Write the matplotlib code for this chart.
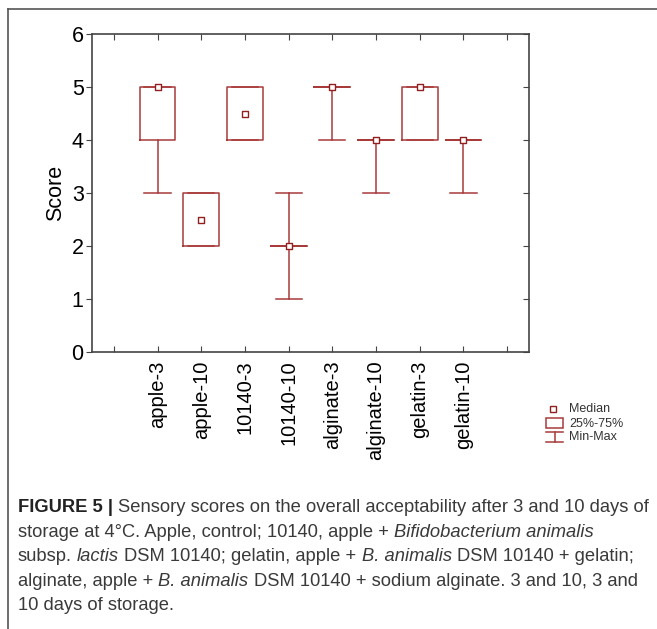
import matplotlib
matplotlib.use("Agg")
import matplotlib.pyplot as plt
from matplotlib import font_manager
from matplotlib.lines import Line2D
from matplotlib.patches import Rectangle

# Box plot values
groups = ["apple-3", "apple-10", "10140-3", "10140-10",
          "alginate-3", "alginate-10", "gelatin-3", "gelatin-10"]
medians = [5, 2.5, 4.5, 2, 5, 4, 5, 4]
q25 = [4, 2, 4, 2, 5, 4, 4, 4]
q75 = [5, 3, 5, 2, 5, 4, 5, 4]
mins = [3, 2, 4, 1, 4, 3, 4, 3]
maxs = [5, 3, 5, 3, 5, 4, 5, 4]

caption = [
    [("FIGURE 5 | ", "b"), ("Sensory scores on the overall acceptability after 3 and 10 days of", "n")],
    [("storage at 4°C. Apple, control; 10140, apple + ", "n"), ("Bifidobacterium animalis", "i")],
    [("subsp. ", "n"), ("lactis", "i"), (" DSM 10140; gelatin, apple + ", "n"), ("B. animalis", "i"),
     (" DSM 10140 + gelatin;", "n")],
    [("alginate, apple + ", "n"), ("B. animalis", "i"), (" DSM 10140 + sodium alginate. 3 and 10, 3 and", "n")],
    [("10 days of storage.", "n")],
]

red = "#a83a3a"
dark = "#921f1f"
axcol = "#444444"

names = {f.name for f in font_manager.fontManager.ttflist}
cap_font = "Liberation Sans Narrow" if "Liberation Sans Narrow" in names else "Liberation Sans"
plt.rcParams["font.family"] = ["Liberation Sans", "DejaVu Sans"]

fig = plt.figure(figsize=(6.57, 6.29), dpi=100)
ax = fig.add_axes([92 / 657, 1 - 352 / 629, 437 / 657, 318 / 629])

stats = [dict(med=m, q1=a, q3=b, whislo=lo, whishi=hi, label=g)
         for g, m, a, b, lo, hi in zip(groups, medians, q25, q75, mins, maxs)]
lp = dict(color=red, linewidth=1.1)
ax.bxp(stats, positions=range(len(groups)), widths=0.82, capwidths=0.6,
       showfliers=False, boxprops=lp, whiskerprops=lp, capprops=lp,
       medianprops=dict(linestyle="none"), manage_ticks=False)
ax.scatter(range(len(groups)), medians, marker="s", s=20, facecolor="white",
           edgecolor=dark, linewidth=1.0, zorder=5)

ax.set_xlim(-1.5, len(groups) + 0.5)
ax.set_ylim(0, 6)
ax.set_xticks(range(-1, len(groups) + 1))
ax.set_xticklabels([""] + groups + [""], rotation=90, fontsize=14.5)
ax.set_yticks(range(0, 7))
ax.tick_params(axis="x", direction="in", top=True, length=4, color=axcol, pad=6)
ax.tick_params(axis="y", direction="out", length=4, color=axcol, labelsize=15.5, pad=2)
ax.set_ylabel("Score", fontsize=15.5, labelpad=4)
for s in ax.spines.values():
    s.set_color(axcol)
    s.set_linewidth(1.2)
right = ax.secondary_yaxis("right")
right.set_yticks(range(0, 7))
right.tick_params(direction="in", length=4, color=axcol, labelright=False)
right.spines["right"].set_visible(False)

# overlay in pixel units for frame, legend and caption
lg = fig.add_axes([0, 0, 1, 1], zorder=-1)
lg.set_xlim(0, 657)
lg.set_ylim(629, 0)
lg.axis("off")
lg.add_line(Line2D([8, 657], [8.5, 8.5], color="#555555", lw=1.2))
lg.add_line(Line2D([8, 8], [8.5, 629], color="#555555", lw=1.2))

# legend
lg.plot([553], [409], marker="s", ms=4.5, mfc="white", mec=dark, mew=1.0)
lg.add_patch(Rectangle((546, 418), 17, 10, fill=False, edgecolor=red, lw=1.1))
lg.add_line(Line2D([546, 563], [432, 432], color=red, lw=1.1))
lg.add_line(Line2D([546, 563], [442, 442], color=red, lw=1.1))
lg.add_line(Line2D([554.5, 554.5], [432, 442], color=red, lw=1.1))
for label, yy in [("Median", 409), ("25%-75%", 424), ("Min-Max", 437)]:
    lg.text(569, yy, label, fontsize=9, va="center", ha="left", color="#333333")

# caption, drawn piece by piece so bold and italic runs sit inline
r = fig.canvas.get_renderer()
styles = {"b": dict(fontweight="bold", color="#222222"),
          "n": dict(color="#3a3a3a"),
          "i": dict(fontstyle="italic", color="#3a3a3a")}
fs = 13.2


def width(s, **kw):
    t = lg.text(0, 0, s, fontsize=fs, family=cap_font, **kw)
    w = t.get_window_extent(renderer=r).width
    t.remove()
    return w


space = width("x x") - width("xx")
y0 = 512
for i, line in enumerate(caption):
    x = 18
    y = y0 + i * 24.6
    for txt, st in line:
        x += space * (len(txt) - len(txt.lstrip(" ")))
        core = txt.strip(" ")
        t = lg.text(x, y, core, fontsize=fs, family=cap_font, va="baseline", ha="left", **styles[st])
        x += t.get_window_extent(renderer=r).width
        x += space * (len(txt) - len(txt.rstrip(" ")))

fig.savefig("out.png", dpi=100)
